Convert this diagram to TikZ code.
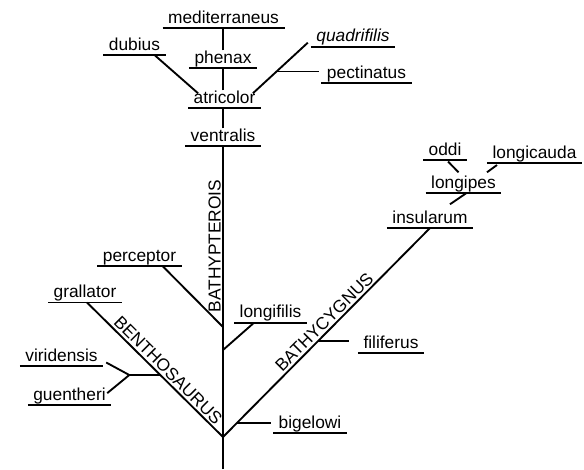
\documentclass[tikz,border=0pt]{standalone}
\usepackage{fontspec}
\setmainfont{Liberation Sans}
\usetikzlibrary{calc}

\begin{document}
\begin{tikzpicture}[x=0.75pt,y=0.75pt,yscale=-1,xscale=1,
  taxon/.style={font=\fontsize{13}{15}\selectfont, inner xsep=4pt, inner ysep=0pt, text height=9.5pt, text depth=3.4pt, anchor=south},
  genus/.style={font=\fontsize{13}{15}\selectfont, inner sep=1.5pt, anchor=south},
  branch/.style={line width=1.4pt},
  uline/.style={line width=1.3pt}]
\useasboundingbox (0,0) rectangle (584,469);

% Text Node
\node[taxon] (mediterraneus) at (223.5,28) {mediterraneus};
\node[taxon] (phenax) at (223,68) {phenax};
\node[taxon] (atricolor) at (224.5,108) {atricolor};
\node[taxon] (ventralis) at (223,146) {ventralis};
\node[taxon] (dubius) at (134.5,55) {dubius};
\node[taxon] (quadrifilis) at (353,46.7) {\itshape quadrifilis};
\node[taxon] (pectinatus) at (366.5,83) {pectinatus};
\node[taxon] (perceptor) at (139.5,266) {perceptor};
\node[taxon] (grallator) at (85,302.5) {grallator};
\node[taxon] (viridensis) at (61.5,366) {viridensis};
\node[taxon] (guentheri) at (69.5,405) {guentheri};
\node[taxon] (longifilis) at (270.5,322.7) {longifilis};
\node[taxon] (bigelowi) at (310,433) {bigelowi};
\node[taxon] (filiferus) at (391,353) {filiferus};
\node[taxon] (insularum) at (430,228) {insularum};
\node[taxon] (longipes) at (463.5,193) {longipes};
\node[taxon] (oddi) at (445,160) {oddi};
\node[taxon] (longicauda) at (534.5,163) {longicauda};

%underlines
\foreach \n in {mediterraneus,phenax,atricolor,ventralis,dubius,quadrifilis,pectinatus,perceptor,grallator,viridensis,guentheri,longifilis,bigelowi,filiferus,insularum,longipes,oddi,longicauda}
  \draw[uline] (\n.south west) -- (\n.south east);

%junctions on the trunk
\coordinate (bot) at (223,469);
\coordinate (root) at (223,437);
\coordinate (jlf) at (223,350);
\coordinate (jper) at (223,327);

%Straight Lines: trunk
\draw[branch] (bot) -- (bot |- ventralis.south);
\draw[branch] (ventralis.north -| bot) -- (atricolor.south -| bot);
\draw[branch] (atricolor.north -| bot) -- (phenax.south -| bot);
\draw[branch] (phenax.north -| bot) -- (mediterraneus.south -| bot);
\node[genus, rotate=90] (bathypterois) at (223,246) {BATHYPTEROIS};

%Straight Lines: top of the tree
\draw[branch] ($(dubius.south)+(20,0)$) -- ($(atricolor.north west)+(10,3)$);
\draw[branch] ($(atricolor.north east)+(-8,3)$) -- ($(quadrifilis.south west)+(-3,-4)$) coordinate[pos=0.43] (jpec);
\draw[branch, shorten >=2pt] (jpec) -- (jpec -| pectinatus.west);

%Straight Lines: side branches of the trunk
\draw[branch] ($(perceptor.south)+(23,0)$) -- (jper);
\draw[branch] (jlf) -- ($(longifilis.south west)+(20,0)$);

%Straight Lines: BENTHOSAURUS
\draw[branch] (root) -- ($(grallator.south)+(2,0)$)
  node[genus, pos=0.45, rotate=-45] (benthosaurus) {BENTHOSAURUS}
  coordinate[pos=0.461] (jvg);
\draw[branch] (jvg) -- ++(-31,0) coordinate (vgfork);
\draw[branch] ($(viridensis.south east)+(3,-3.5)$) -- (vgfork) -- ($(guentheri.east)+(-4,-3)$);

%Straight Lines: BATHYCYGNUS
\draw[branch] (root) -- (insularum.south)
  node[genus, pos=0.52, rotate=45] (bathycygnus) {BATHYCYGNUS}
  coordinate[pos=0.458] (jfil)
  coordinate[pos=0.067] (jbig);
\draw[branch, shorten >=7pt] (jfil) -- (jfil -| filiferus.west);
\draw[branch, shorten >=1.7pt] (jbig) -- (jbig -| bigelowi.west);
\draw[branch] ($(insularum.north)+(20,-6)$) -- ($(longipes.south)+(3,0)$);
\draw[branch] ($(longipes.north)+(-5,-3)$) -- ($(oddi.south)+(3,1.5)$);
\draw[branch] ($(longipes.north)+(23.5,-3)$) -- ($(longicauda.south west)+(10,2)$);
\end{tikzpicture}
\end{document}
